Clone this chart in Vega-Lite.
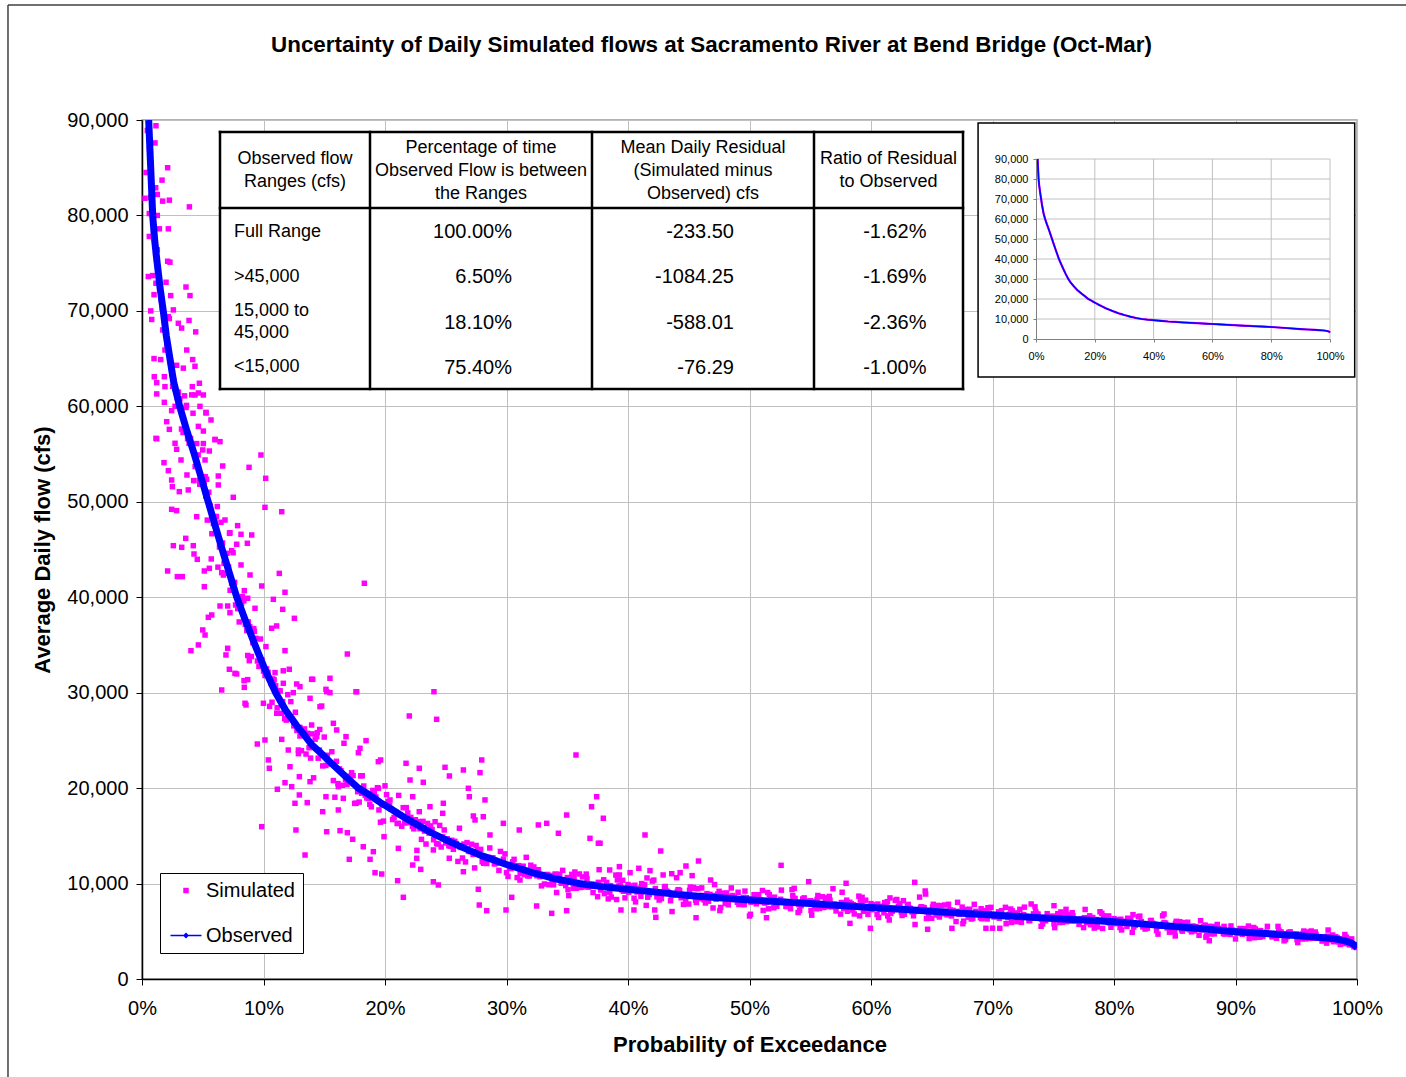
{
"$schema": "https://vega.github.io/schema/vega-lite/v6.json",
"width": 1215, "height": 859,
"autosize": {"type": "none"},
"padding": {"left": 142, "top": 120, "right": 49, "bottom": 98},
"background": "white",
"title": {"text": "Uncertainty of Daily Simulated flows at Sacramento River at Bend Bridge (Oct-Mar)", "fontSize": 22.4, "fontWeight": "bold", "font": "Liberation Sans", "color": "black", "anchor": "middle", "dx": -38, "frame": "group", "offset": -69.75, "baseline": "alphabetic"},
"config": {
  "font": "Liberation Sans",
  "view": {"stroke": "#999999", "strokeWidth": 1.5},
  "axis": {"labelFont": "Liberation Sans", "titleFont": "Liberation Sans", "labelColor": "black", "titleColor": "black"},
  "legend": {"labelFont": "Liberation Sans", "orient": "none", "legendX": 18, "legendY": 753, "padding": 7.5, "strokeColor": "black", "fillColor": "white", "cornerRadius": 0, "labelFontSize": 20, "labelColor": "black", "rowPadding": 24, "labelOffset": 9, "symbolOffset": 7.5}
},
"datasets": {
"sim": [
{"p":1.15,"s":89400},{"p":0.44,"s":88900},{"p":1.07,"s":87600},{"p":2.11,"s":85000},{"p":0.33,"s":84500},{"p":1.65,"s":83700},{"p":0.25,"s":81800},{"p":1.7,"s":81500},{"p":2.25,"s":81600},{"p":3.9,"s":80900},{"p":0.7,"s":81900},{"p":1.13,"s":82900},{"p":1.26,"s":82200},{"p":0.6,"s":80200},{"p":1.26,"s":80000},{"p":1.43,"s":78600},{"p":2.17,"s":78600},{"p":0.6,"s":77800},{"p":1.26,"s":76400},{"p":2.11,"s":75200},{"p":2.3,"s":75100},{"p":0.52,"s":73600},{"p":0.88,"s":73700},{"p":1.15,"s":72900},{"p":1.98,"s":73000},{"p":3.62,"s":72500},{"p":3.95,"s":71600},{"p":2.36,"s":71600},{"p":0.99,"s":71700},{"p":0.72,"s":70000},{"p":0.8,"s":69100},{"p":2.58,"s":70100},{"p":2.25,"s":69200},{"p":2.16,"s":69400},{"p":3.87,"s":69000},{"p":3.26,"s":68200},{"p":2.99,"s":68700},{"p":1.7,"s":68000},{"p":4.42,"s":67800},{"p":1.89,"s":65900},{"p":3.68,"s":65900},{"p":4.17,"s":64900},{"p":1.54,"s":64900},{"p":0.99,"s":65000},{"p":2.85,"s":64300},{"p":4.36,"s":64200},{"p":3.4,"s":64000},{"p":1.01,"s":63100},{"p":1.84,"s":63100},{"p":2.52,"s":62100},{"p":4.09,"s":61200},{"p":4.64,"s":61400},{"p":1.21,"s":61300},{"p":4.77,"s":60000},{"p":5.27,"s":59300},{"p":2.72,"s":60000},{"p":3.66,"s":60100},{"p":1.21,"s":56600},{"p":4.64,"s":57900},{"p":6.01,"s":56500},{"p":5.05,"s":56100},
{"p":0.55,"s":89000},{"p":0.62,"s":87000},{"p":0.68,"s":85800},{"p":0.75,"s":84200},{"p":0.82,"s":82000},{"p":0.9,"s":80500},{"p":0.97,"s":78800},{"p":1.05,"s":77200},{"p":1.12,"s":76000},{"p":1.2,"s":75400},{"p":1.32,"s":74000},{"p":1.45,"s":72300},{"p":1.58,"s":71200},{"p":1.66,"s":70300},{"p":1.82,"s":69000},{"p":1.95,"s":67800},{"p":2.05,"s":66500},{"p":2.2,"s":65600},{"p":2.35,"s":64600},{"p":2.45,"s":63400},{"p":2.62,"s":62700},{"p":2.75,"s":61800},{"p":2.9,"s":60900},
{"p":1.21,"s":62480},{"p":1.89,"s":62060},{"p":4.14,"s":62060},{"p":4.72,"s":62420},{"p":5.05,"s":61190},{"p":4.36,"s":61190},{"p":1.84,"s":60420},{"p":2.44,"s":59550},{"p":5.27,"s":59370},{"p":2.03,"s":58390},{"p":5.68,"s":58570},{"p":2.25,"s":57590},{"p":5.05,"s":57410},{"p":1.15,"s":56650},{"p":2.72,"s":56130},{"p":6.01,"s":56540},{"p":6.42,"s":56300},{"p":2.85,"s":55500},{"p":5.54,"s":55320},{"p":1.81,"s":54100},{"p":3.21,"s":54380},{"p":5.19,"s":54380},{"p":9.79,"s":54900},{"p":6.64,"s":53750},{"p":2.17,"s":53260},{"p":8.81,"s":53610},{"p":10.18,"s":52460},{"p":2.44,"s":52280},{"p":6.28,"s":52700},{"p":5.32,"s":52360},{"p":3.81,"s":51240},{"p":6.28,"s":51760},{"p":3.07,"s":51060},{"p":7.51,"s":50470},{"p":2.5,"s":51580},{"p":2.44,"s":49210},{"p":2.85,"s":49070},{"p":10.12,"s":49420},{"p":11.5,"s":48960},{"p":4.5,"s":48440},{"p":6.83,"s":48090},{"p":7.87,"s":47500},{"p":8.15,"s":46590},{"p":9.03,"s":46520},{"p":7.24,"s":46760},{"p":3.6,"s":46170},{"p":2.58,"s":45400},{"p":3.27,"s":45230},{"p":4.22,"s":45400},{"p":8.67,"s":45650},{"p":7.79,"s":45550},{"p":4.28,"s":44530},{"p":4.55,"s":43970},{"p":7.38,"s":44880},{"p":8.15,"s":43380},{"p":2.11,"s":42750},{"p":2.91,"s":42160},{"p":3.32,"s":42160},{"p":5.13,"s":42750},{"p":5.54,"s":43030},{"p":8.89,"s":42330},{"p":6.56,"s":42570},{"p":11.3,"s":42500},{"p":9.85,"s":41180},{"p":5.13,"s":41100},{"p":11.77,"s":40520},{"p":8.42,"s":40690},{"p":8.7,"s":39890},{"p":10.81,"s":39780},{"p":6.42,"s":39080},{"p":7.05,"s":39080},{"p":9.3,"s":38840},{"p":11.58,"s":38730},{"p":5.46,"s":37900},{"p":5.74,"s":38140},{"p":12.54,"s":37790},{"p":7.24,"s":38380},{"p":5.0,"s":36570},{"p":5.19,"s":36040},{"p":10.67,"s":36750},{"p":11.08,"s":36990},{"p":4.64,"s":35000},{"p":4.03,"s":34400},{"p":7.05,"s":34650},{"p":6.91,"s":33950},{"p":11.77,"s":34400},{"p":16.9,"s":34050},{"p":18.3,"s":41460},{"p":8.83,"s":33350},{"p":8.7,"s":33900},{"p":7.19,"s":32450},{"p":7.79,"s":31960},{"p":10.95,"s":32100},{"p":12.12,"s":32450},{"p":15.47,"s":31510},{"p":6.56,"s":30280},{"p":8.42,"s":30560},{"p":14.05,"s":31400},{"p":17.67,"s":30100},{"p":12.73,"s":30910},{"p":15.2,"s":30100},{"p":8.56,"s":28710},{"p":14.79,"s":28600},
{"p":7.65,"s":32030},{"p":8.4,"s":31260},{"p":8.48,"s":28890},{"p":9.49,"s":24620},{"p":9.85,"s":15960},{"p":12.67,"s":15610},{"p":13.42,"s":12990},{"p":24.03,"s":30100},{"p":22.0,"s":27560},{"p":24.25,"s":27210},{"p":17.61,"s":30100},{"p":13.96,"s":31400},{"p":15.14,"s":30350},{"p":15.47,"s":30000},{"p":13.83,"s":29410},{"p":14.65,"s":28530},{"p":15.75,"s":26790},{"p":16.02,"s":26090},{"p":16.79,"s":25390},{"p":18.44,"s":24970},{"p":17.94,"s":24170},{"p":17.81,"s":23710},{"p":19.45,"s":22770},{"p":19.64,"s":22950},{"p":21.73,"s":22600},{"p":22.82,"s":22080},{"p":27.96,"s":22950},{"p":24.94,"s":22180},{"p":26.45,"s":21900},{"p":25.3,"s":21270},{"p":27.82,"s":21620},{"p":35.72,"s":23470},{"p":22.06,"s":20850},{"p":23.15,"s":20610},{"p":10.12,"s":25040},{"p":10.4,"s":22950},{"p":10.48,"s":22080},{"p":11.14,"s":19880},{"p":11.77,"s":20570},{"p":12.32,"s":20150},{"p":12.59,"s":18410},{"p":12.95,"s":19280},{"p":13.6,"s":18480},{"p":14.87,"s":17530},{"p":16.16,"s":17710},{"p":15.2,"s":15430},{"p":16.3,"s":15540},{"p":16.9,"s":15330},{"p":17.34,"s":14640},{"p":18.21,"s":13860},{"p":18.77,"s":12540},{"p":19.18,"s":11140},{"p":19.73,"s":11000},{"p":17.06,"s":12540},{"p":21.04,"s":10300},{"p":21.51,"s":8560},{"p":19.04,"s":13340},{"p":21.1,"s":13690},{"p":22.28,"s":11940},{"p":22.94,"s":11490},{"p":23.98,"s":10190},{"p":24.39,"s":9850},{"p":21.1,"s":16310},{"p":19.92,"s":14910},{"p":22.61,"s":12650},{"p":23.98,"s":13520},{"p":25.29,"s":12650},{"p":26.17,"s":13860},{"p":26.45,"s":11240},{"p":27.68,"s":9400},{"p":28.37,"s":7160},{"p":27.76,"s":7750},{"p":29.96,"s":7230},{"p":30.43,"s":8560},{"p":31.11,"s":10370},{"p":32.48,"s":7650},{"p":33.72,"s":6880},{"p":34.95,"s":7160},{"p":37.42,"s":19100},{"p":37.0,"s":18050},{"p":37.97,"s":16840},{"p":34.95,"s":17180},{"p":36.87,"s":14740},{"p":37.56,"s":14220},{"p":41.4,"s":15090},{"p":34.27,"s":15270},{"p":33.31,"s":16310},{"p":32.62,"s":16140},{"p":31.05,"s":15610},{"p":29.74,"s":16310},{"p":28.64,"s":15090},{"p":28.09,"s":17000},{"p":27.27,"s":17080},{"p":26.86,"s":19980},{"p":26.94,"s":19100},{"p":28.23,"s":18760},{"p":27.41,"s":16660},{"p":24.8,"s":18410},{"p":24.75,"s":17360},{"p":22.28,"s":19100},{"p":22.82,"s":17530},{"p":23.7,"s":18050},{"p":20.41,"s":18760},{"p":19.45,"s":19980},{"p":18.08,"s":19460},{"p":16.57,"s":18930},{"p":15.14,"s":19100},{"p":13.83,"s":20670},{"p":12.95,"s":21200},{"p":17.12,"s":21200},{"p":16.16,"s":20150},{"p":12.04,"s":23990},{"p":12.18,"s":22240},{"p":11.5,"s":25110},{"p":13.0,"s":25460},{"p":13.96,"s":26610},{"p":14.43,"s":25810},{"p":12.87,"s":23990},{"p":14.6,"s":23990},{"p":11.09,"s":27840},{"p":11.58,"s":29060},{"p":12.45,"s":30000},{"p":13.0,"s":30630},{"p":11.63,"s":30980},{"p":10.81,"s":31150},{"p":9.99,"s":28890},
{"p":42.69,"s":13410},{"p":37.7,"s":14220},{"p":45.8,"s":12360},{"p":44.77,"s":11840},{"p":52.6,"s":11910},{"p":63.6,"s":10130},{"p":64.46,"s":9220},{"p":64.5,"s":8900},{"p":57.95,"s":10030},{"p":54.87,"s":10200},{"p":53.68,"s":9500},{"p":56.87,"s":9460},{"p":46.8,"s":10370},{"p":45.28,"s":10830},{"p":44.29,"s":11140},{"p":43.6,"s":11030},{"p":42.89,"s":10900},{"p":41.81,"s":11350},{"p":40.89,"s":11600},{"p":40.17,"s":11140},{"p":39.29,"s":11770},{"p":39.29,"s":10900},{"p":38.49,"s":11420},{"p":39.42,"s":7230},{"p":40.49,"s":7230},{"p":42.29,"s":6460},{"p":42.2,"s":7230},{"p":45.6,"s":6420},{"p":51.4,"s":6420},{"p":50.08,"s":6780},{"p":58.27,"s":5830},{"p":59.95,"s":5310},{"p":64.66,"s":5210},{"p":66.66,"s":5310},{"p":69.46,"s":5310},{"p":70.6,"s":5310},{"p":85.04,"s":4510},{"p":87.84,"s":4010},{"p":73.18,"s":7860},{"p":75.06,"s":7680},{"p":76.05,"s":7300},{"p":78.85,"s":7050},{"p":84.12,"s":6810},{"p":96.23,"s":5030},{"p":69.87,"s":7510},{"p":72.25,"s":7300},{"p":61.35,"s":8100},{"p":62.67,"s":8200},{"p":59.27,"s":8560},
{"p":35,"s":10630},{"p":35.5,"s":9505},{"p":36,"s":11000},{"p":36.5,"s":9662},{"p":37,"s":9949},{"p":37.5,"s":8624},{"p":38,"s":10394},{"p":38.5,"s":9094},{"p":39,"s":10889},{"p":39.5,"s":9336},{"p":40,"s":9896},{"p":40.5,"s":8467},{"p":41,"s":9518},{"p":41.5,"s":7717},{"p":42,"s":10256},{"p":42.5,"s":8703},{"p":43,"s":9630},{"p":43.5,"s":8201},{"p":44,"s":10616},{"p":44.5,"s":8815},{"p":45,"s":7854},{"p":45.5,"s":9489},{"p":46,"s":8431},{"p":46.5,"s":8946},{"p":47,"s":7440},{"p":47.5,"s":9187},{"p":48,"s":7910},{"p":48.5,"s":9540},{"p":49,"s":8039},{"p":49.5,"s":8549},{"p":50,"s":6600},{"p":50.5,"s":8688},{"p":51,"s":8088},{"p":51.5,"s":9061},{"p":52,"s":7458},{"p":52.5,"s":8202},{"p":53,"s":7602},{"p":53.5,"s":9359},{"p":54,"s":6967},{"p":54.5,"s":8500},{"p":55,"s":8200},{"p":55.5,"s":7360},{"p":56,"s":8620},{"p":56.5,"s":7580},{"p":57,"s":7840},{"p":57.5,"s":6800},{"p":58,"s":8260},{"p":58.5,"s":7220},{"p":59,"s":8680},{"p":59.5,"s":7440},{"p":60,"s":7900},{"p":60.5,"s":6760},{"p":61,"s":7620},{"p":61.5,"s":6180},{"p":62,"s":8240},{"p":62.5,"s":7000},{"p":63,"s":7760},{"p":63.5,"s":6620},{"p":64,"s":8580},{"p":64.5,"s":7140},{"p":65,"s":6364},{"p":65.5,"s":7704},{"p":66,"s":6836},{"p":66.5,"s":7256},{"p":67,"s":6020},{"p":67.5,"s":7532},{"p":68,"s":6480},{"p":68.5,"s":7820},{"p":69,"s":6424},{"p":69.5,"s":6924},{"p":70,"s":5320},{"p":70.5,"s":7033},{"p":71,"s":6538},{"p":71.5,"s":7331},{"p":72,"s":6008},{"p":72.5,"s":6617},{"p":73,"s":6122},{"p":73.5,"s":7559},{"p":74,"s":5522},{"p":74.5,"s":6845},{"p":75,"s":6590},{"p":75.5,"s":5915},{"p":76,"s":6920},{"p":76.5,"s":6085},{"p":77,"s":6220},{"p":77.5,"s":5385},{"p":78,"s":6620},{"p":78.5,"s":5715},{"p":79,"s":6880},{"p":79.5,"s":5955},{"p":80,"s":6320},{"p":80.5,"s":5390},{"p":81,"s":6060},{"p":81.5,"s":4890},{"p":82,"s":6520},{"p":82.5,"s":5510},{"p":83,"s":6100},{"p":83.5,"s":5070},{"p":84,"s":6620},{"p":84.5,"s":5550},{"p":85,"s":4940},{"p":85.5,"s":5936},{"p":86,"s":5252},{"p":86.5,"s":5548},{"p":87,"s":4584},{"p":87.5,"s":5650},{"p":88,"s":4718},{"p":88.5,"s":5714},{"p":89,"s":4750},{"p":89.5,"s":5046},{"p":90,"s":4200},{"p":90.5,"s":5199},{"p":91,"s":4808},{"p":91.5,"s":5397},{"p":92,"s":4376},{"p":92.5,"s":4825},{"p":93,"s":4434},{"p":93.5,"s":5513},{"p":94,"s":4002},{"p":94.5,"s":4941},{"p":95,"s":4730},{"p":95.5,"s":4200},{"p":96,"s":4930},{"p":96.5,"s":4280},{"p":97,"s":4410},{"p":97.5,"s":3760},{"p":98,"s":4610},{"p":98.5,"s":3885},{"p":99,"s":4660},{"p":99.5,"s":3740},
{"p":35.25,"s":10500},{"p":35.75,"s":9502},{"p":36.25,"s":10699},{"p":36.75,"s":9620},{"p":37.25,"s":9845},{"p":37.75,"s":9323},{"p":38.25,"s":10116},{"p":38.75,"s":9496},{"p":39.25,"s":9741},{"p":39.75,"s":8500},{"p":40.25,"s":9492},{"p":40.75,"s":9117},{"p":41.25,"s":9858},{"p":41.75,"s":8863},{"p":42.25,"s":9480},{"p":42.75,"s":8423},{"p":43.25,"s":9164},{"p":43.75,"s":8789},{"p":44.25,"s":9282},{"p":44.75,"s":8287},{"p":45.25,"s":8728},{"p":45.75,"s":9464},{"p":46.25,"s":8297},{"p":46.75,"s":8865},{"p":47.25,"s":8370},{"p":47.75,"s":8997},{"p":48.25,"s":7773},{"p":48.75,"s":8510},{"p":49.25,"s":7958},{"p":49.75,"s":8527},{"p":50.25,"s":8204},{"p":50.75,"s":8836},{"p":51.25,"s":7959},{"p":51.75,"s":8484},{"p":52.25,"s":7606},{"p":52.75,"s":8126},{"p":53.25,"s":7921},{"p":53.75,"s":8443},{"p":54.25,"s":7678},{"p":54.75,"s":8088},{"p":55.25,"s":8130},{"p":55.75,"s":7390},{"p":56.25,"s":8400},{"p":56.75,"s":7560},{"p":57.25,"s":7770},{"p":57.75,"s":7380},{"p":58.25,"s":8040},{"p":58.75,"s":7550},{"p":59.25,"s":7760},{"p":59.75,"s":6770},{"p":60.25,"s":7580},{"p":60.75,"s":7290},{"p":61.25,"s":7900},{"p":61.75,"s":7110},{"p":62.25,"s":7620},{"p":62.75,"s":6780},{"p":63.25,"s":7390},{"p":63.75,"s":7100},{"p":64.25,"s":7510},{"p":64.75,"s":6720},{"p":65.25,"s":7080},{"p":65.75,"s":7684},{"p":66.25,"s":6724},{"p":66.75,"s":7190},{"p":67.25,"s":6782},{"p":67.75,"s":7294},{"p":68.25,"s":6288},{"p":68.75,"s":6892},{"p":69.25,"s":6438},{"p":69.75,"s":6904},{"p":70.25,"s":6637},{"p":70.75,"s":7154},{"p":71.25,"s":6429},{"p":71.75,"s":6854},{"p":72.25,"s":6129},{"p":72.75,"s":6554},{"p":73.25,"s":6381},{"p":73.75,"s":6806},{"p":74.25,"s":6173},{"p":74.75,"s":6506},{"p":75.25,"s":6533},{"p":75.75,"s":5938},{"p":76.25,"s":6743},{"p":76.75,"s":6068},{"p":77.25,"s":6233},{"p":77.75,"s":5918},{"p":78.25,"s":6443},{"p":78.75,"s":6048},{"p":79.25,"s":6213},{"p":79.75,"s":5418},{"p":80.25,"s":6055},{"p":80.75,"s":5805},{"p":81.25,"s":6275},{"p":81.75,"s":5625},{"p":82.25,"s":6015},{"p":82.75,"s":5325},{"p":83.25,"s":5795},{"p":83.75,"s":5545},{"p":84.25,"s":5855},{"p":84.75,"s":5205},{"p":85.25,"s":5473},{"p":85.75,"s":5909},{"p":86.25,"s":5155},{"p":86.75,"s":5487},{"p":87.25,"s":5151},{"p":87.75,"s":5519},{"p":88.25,"s":4729},{"p":88.75,"s":5165},{"p":89.25,"s":4795},{"p":89.75,"s":5127},{"p":90.25,"s":4904},{"p":90.75,"s":5285},{"p":91.25,"s":4718},{"p":91.75,"s":5027},{"p":92.25,"s":4460},{"p":92.75,"s":4771},{"p":93.25,"s":4624},{"p":93.75,"s":4933},{"p":94.25,"s":4436},{"p":94.75,"s":4677},{"p":95.25,"s":4675},{"p":95.75,"s":4205},{"p":96.25,"s":4785},{"p":96.75,"s":4255},{"p":97.25,"s":4355},{"p":97.75,"s":4095},{"p":98.25,"s":4430},{"p":98.75,"s":4030},{"p":99.25,"s":4020},{"p":99.75,"s":3375},{"p":100,"s":3300},
{"p":11,"s":30720},{"p":11.5,"s":27840},{"p":12,"s":29790},{"p":12.5,"s":26520},{"p":13,"s":26360},{"p":13.5,"s":23570},{"p":14,"s":25680},{"p":14.5,"s":23135},{"p":15,"s":25350},{"p":15.5,"s":22520},{"p":16,"s":22810},{"p":16.5,"s":20300},{"p":17,"s":21230},{"p":17.5,"s":18400},{"p":18,"s":21280},{"p":18.5,"s":18980},{"p":19,"s":19760},{"p":19.5,"s":17710},{"p":20,"s":20240},{"p":20.5,"s":17800},{"p":21,"s":16290},{"p":21.5,"s":17950},{"p":22,"s":16380},{"p":22.5,"s":16690},{"p":23,"s":14630},{"p":23.5,"s":16300},{"p":24,"s":14590},{"p":24.5,"s":16090},{"p":25,"s":14250},{"p":25.5,"s":14530},{"p":26,"s":12320},{"p":26.5,"s":14140},{"p":27,"s":13340},{"p":27.5,"s":13990},{"p":28,"s":12280},{"p":28.5,"s":12750},{"p":29,"s":12050},{"p":29.5,"s":13370},{"p":30,"s":11140},{"p":30.5,"s":12270},{"p":31,"s":11880},{"p":31.5,"s":10940},{"p":32,"s":11920},{"p":32.5,"s":10820},{"p":33,"s":10940},{"p":33.5,"s":9880},{"p":34,"s":11000},{"p":34.5,"s":10040},
{"p":11.25,"s":30210},{"p":11.75,"s":27270},{"p":12.25,"s":29060},{"p":12.75,"s":26040},{"p":13.25,"s":25900},{"p":13.75,"s":24230},{"p":14.25,"s":25130},{"p":14.75,"s":23490},{"p":15.25,"s":23440},{"p":15.75,"s":20790},{"p":16.25,"s":22010},{"p":16.75,"s":20900},{"p":17.25,"s":21615},{"p":17.75,"s":19620},{"p":18.25,"s":20220},{"p":18.75,"s":18300},{"p":19.25,"s":19070},{"p":19.75,"s":18220},{"p":20.25,"s":18605},{"p":20.75,"s":16925},{"p":21.25,"s":17200},{"p":21.75,"s":17955},{"p":22.25,"s":16000},{"p":22.75,"s":16490},{"p":23.25,"s":15500},{"p":23.75,"s":16040},{"p":24.25,"s":14180},{"p":24.75,"s":14890},{"p":25.25,"s":13965},{"p":25.75,"s":14420},{"p":26.25,"s":13785},{"p":26.75,"s":14290},{"p":27.25,"s":13045},{"p":27.75,"s":13400},{"p":28.25,"s":12225},{"p":28.75,"s":12610},{"p":29.25,"s":12205},{"p":29.75,"s":12565},{"p":30.25,"s":11615},{"p":30.75,"s":11870},{"p":31.25,"s":11775},{"p":31.75,"s":10810},{"p":32.25,"s":11740},{"p":32.75,"s":10715},{"p":33.25,"s":10800},{"p":33.75,"s":10270},{"p":34.25,"s":10835},{"p":34.75,"s":10260},
{"p":3,"s":61490},{"p":3.25,"s":57620},{"p":3.5,"s":61100},{"p":3.75,"s":56610},{"p":4,"s":56640},{"p":4.25,"s":52220},{"p":4.5,"s":56100},{"p":4.75,"s":51830},{"p":5,"s":55430},{"p":5.25,"s":50600},{"p":5.5,"s":51000},{"p":5.75,"s":46650},{"p":6,"s":48170},{"p":6.25,"s":43150},{"p":6.5,"s":47850},{"p":6.75,"s":43550},{"p":7,"s":44600},{"p":7.25,"s":40730},{"p":7.5,"s":44660},{"p":7.75,"s":40200},{"p":8,"s":37410},{"p":8.25,"s":40070},{"p":8.5,"s":37150},{"p":8.75,"s":37410},{"p":9,"s":33790},{"p":9.25,"s":36420},{"p":9.5,"s":33320},{"p":9.75,"s":35620},{"p":10,"s":32260},{"p":10.25,"s":32490},{"p":10.5,"s":28570},{"p":10.75,"s":31440},
{"p":3.125,"s":60800},{"p":3.375,"s":57260},{"p":3.625,"s":59880},{"p":3.875,"s":56120},{"p":4.125,"s":55920},{"p":4.375,"s":53690},{"p":4.625,"s":54910},{"p":4.875,"s":52390},{"p":5.125,"s":52070},{"p":5.375,"s":48080},{"p":5.625,"s":49550},{"p":5.875,"s":47720},{"p":6.125,"s":48460},{"p":6.375,"s":45260},{"p":6.625,"s":45680},{"p":6.875,"s":42510},{"p":7.125,"s":43160},{"p":7.375,"s":41475},{"p":7.625,"s":41555},{"p":7.875,"s":38800},{"p":8.125,"s":38875},{"p":8.375,"s":39620},{"p":8.625,"s":36505},{"p":8.875,"s":36900},{"p":9.125,"s":35230},{"p":9.375,"s":35690},{"p":9.625,"s":32750},{"p":9.875,"s":33425},{"p":10.125,"s":31790},{"p":10.375,"s":32130},{"p":10.625,"s":30960},{"p":10.875,"s":31350},
{"p":35.125,"s":8732},{"p":35.625,"s":11211},{"p":36.125,"s":9606},{"p":36.625,"s":10510},{"p":37.125,"s":9060},{"p":37.625,"s":11454},{"p":38.125,"s":9635},{"p":38.625,"s":8582},{"p":39.125,"s":10377},{"p":39.625,"s":9197},{"p":40.125,"s":9756},{"p":40.625,"s":8079},{"p":41.125,"s":9998},{"p":41.625,"s":8569},{"p":42.125,"s":10364},{"p":42.625,"s":8687},{"p":43.125,"s":9242},{"p":43.625,"s":7069},{"p":44.125,"s":9360},{"p":44.625,"s":8675},{"p":45.125,"s":9635},{"p":45.625,"s":8021},{"p":46.125,"s":8756},{"p":46.625,"s":8150},{"p":47.125,"s":9893},{"p":47.625,"s":7496},{"p":48.125,"s":9018},{"p":48.625,"s":8745},{"p":49.125,"s":7803},{"p":49.625,"s":9210},{"p":50.125,"s":8046},{"p":50.625,"s":8342},{"p":51.125,"s":7183},{"p":51.625,"s":8828},{"p":52.125,"s":7672},{"p":52.625,"s":9312},{"p":53.125,"s":7929},{"p":53.625,"s":8454},{"p":54.125,"s":7182},{"p":54.625,"s":8155},{"p":55.125,"s":6690},{"p":55.625,"s":8750},{"p":56.125,"s":7510},{"p":56.625,"s":8270},{"p":57.125,"s":7130},{"p":57.625,"s":9090},{"p":58.125,"s":7650},{"p":58.625,"s":6810},{"p":59.125,"s":8270},{"p":59.625,"s":7330},{"p":60.125,"s":7790},{"p":60.625,"s":6450},{"p":61.125,"s":8010},{"p":61.625,"s":6870},{"p":62.125,"s":8330},{"p":62.625,"s":6990},{"p":63.125,"s":7450},{"p":63.625,"s":5710},{"p":64.125,"s":7570},{"p":64.625,"s":7030},{"p":65.125,"s":7826},{"p":65.625,"s":6498},{"p":66.125,"s":7102},{"p":66.625,"s":6602},{"p":67.125,"s":8034},{"p":67.625,"s":6062},{"p":68.125,"s":7310},{"p":68.625,"s":7086},{"p":69.125,"s":6310},{"p":69.625,"s":7466},{"p":70.125,"s":6507},{"p":70.625,"s":6748},{"p":71.125,"s":5793},{"p":71.625,"s":7138},{"p":72.125,"s":6183},{"p":72.625,"s":7528},{"p":73.125,"s":6389},{"p":73.625,"s":6814},{"p":74.125,"s":5767},{"p":74.625,"s":6560},{"p":75.125,"s":5381},{"p":75.625,"s":7026},{"p":76.125,"s":6031},{"p":76.625,"s":6636},{"p":77.125,"s":5721},{"p":77.625,"s":7286},{"p":78.125,"s":6131},{"p":78.625,"s":5456},{"p":79.125,"s":6621},{"p":79.625,"s":5866},{"p":80.125,"s":6228},{"p":80.625,"s":5138},{"p":81.125,"s":6368},{"p":81.625,"s":5438},{"p":82.125,"s":6588},{"p":82.625,"s":5498},{"p":83.125,"s":5848},{"p":83.625,"s":4700},{"p":84.125,"s":5908},{"p":84.625,"s":5458},{"p":85.125,"s":6047},{"p":85.625,"s":5013},{"p":86.125,"s":5449},{"p":86.625,"s":5045},{"p":87.125,"s":6111},{"p":87.625,"s":4587},{"p":88.125,"s":5513},{"p":88.625,"s":5319},{"p":89.125,"s":4705},{"p":89.625,"s":5561},{"p":90.125,"s":4810},{"p":90.625,"s":4979},{"p":91.125,"s":4238},{"p":91.625,"s":5247},{"p":92.125,"s":4506},{"p":92.625,"s":5515},{"p":93.125,"s":4634},{"p":93.625,"s":4943},{"p":94.125,"s":4132},{"p":94.625,"s":4721},{"p":95.125,"s":3818},{"p":95.625,"s":5028},{"p":96.125,"s":4258},{"p":96.625,"s":4688},{"p":97.125,"s":3978},{"p":97.625,"s":5128},{"p":98.125,"s":4220},{"p":98.625,"s":3615},{"p":99.125,"s":4370},{"p":99.625,"s":3580},
{"p":35.375,"s":10962},{"p":36.375,"s":9690},{"p":37.375,"s":9922},{"p":38.375,"s":8396},{"p":39.375,"s":9798},{"p":40.375,"s":9270},{"p":41.375,"s":9866},{"p":42.375,"s":8607},{"p":43.375,"s":9042},{"p":44.375,"s":8509},{"p":45.375,"s":9590},{"p":46.375,"s":7966},{"p":47.375,"s":8890},{"p":48.375,"s":8650},{"p":49.375,"s":7973},{"p":50.375,"s":8832},{"p":51.375,"s":8028},{"p":52.375,"s":8173},{"p":53.375,"s":7369},{"p":54.375,"s":8386},{"p":55.375,"s":7610},{"p":56.375,"s":8505},{"p":57.375,"s":7645},{"p":58.375,"s":7890},{"p":59.375,"s":7095},{"p":60.375,"s":7600},{"p":61.375,"s":6610},{"p":62.375,"s":7895},{"p":63.375,"s":7035},{"p":64.375,"s":7475},{"p":65.375,"s":6711},{"p":66.375,"s":7827},{"p":67.375,"s":6910},{"p":68.375,"s":6352},{"p":69.375,"s":7169},{"p":70.375,"s":6554},{"p":71.375,"s":6783},{"p":72.375,"s":5936},{"p":73.375,"s":6823},{"p":74.375,"s":6095},{"p":75.375,"s":6844},{"p":76.375,"s":6098},{"p":77.375,"s":6288},{"p":78.375,"s":5334},{"p":79.375,"s":6252},{"p":80.375,"s":5911},{"p":81.375,"s":6279},{"p":82.375,"s":5451},{"p":83.375,"s":5715},{"p":84.375,"s":5355},{"p":85.375,"s":6006},{"p":86.375,"s":4942},{"p":87.375,"s":5472},{"p":88.375,"s":5273},{"p":89.375,"s":4800},{"p":90.375,"s":5293},{"p":91.375,"s":4756},{"p":92.375,"s":4811},{"p":93.375,"s":4273},{"p":94.375,"s":4874},{"p":95.375,"s":4357},{"p":96.375,"s":4842},{"p":97.375,"s":4274},{"p":98.375,"s":4312},{"p":99.375,"s":3577},
{"p":35.0625,"s":9342},{"p":35.5625,"s":10705},{"p":36.0625,"s":9593},{"p":36.5625,"s":10991},{"p":37.0625,"s":9716},{"p":37.5625,"s":10127},{"p":38.0625,"s":8948},{"p":38.5625,"s":9780},{"p":39.0625,"s":8327},{"p":39.5625,"s":10345},{"p":40.0625,"s":9094},{"p":40.5625,"s":9823},{"p":41.0625,"s":8667},{"p":41.5625,"s":10586},{"p":42.0625,"s":9132},{"p":42.5625,"s":8273},{"p":43.0625,"s":9696},{"p":43.5625,"s":8739},{"p":44.0625,"s":9170},{"p":44.5625,"s":7815},{"p":45.0625,"s":9283},{"p":45.5625,"s":8251},{"p":46.0625,"s":9546},{"p":46.5625,"s":8335},{"p":47.0625,"s":8734},{"p":47.5625,"s":7166},{"p":48.0625,"s":8822},{"p":48.5625,"s":8324},{"p":49.0625,"s":9086},{"p":49.5625,"s":7781},{"p":50.0625,"s":8365},{"p":50.5625,"s":7877},{"p":51.0625,"s":9271},{"p":51.5625,"s":7355},{"p":52.0625,"s":8573},{"p":52.5625,"s":8354},{"p":53.0625,"s":7598},{"p":53.5625,"s":8727},{"p":54.0625,"s":7791},{"p":54.5625,"s":8025},{"p":55.0625,"s":7175},{"p":55.5625,"s":8335},{"p":56.0625,"s":7495},{"p":56.5625,"s":8655},{"p":57.0625,"s":7655},{"p":57.5625,"s":8015},{"p":58.0625,"s":7095},{"p":58.5625,"s":7775},{"p":59.0625,"s":6615},{"p":59.5625,"s":8255},{"p":60.0625,"s":7255},{"p":60.5625,"s":7855},{"p":61.0625,"s":6935},{"p":61.5625,"s":8495},{"p":62.0625,"s":7335},{"p":62.5625,"s":6655},{"p":63.0625,"s":7815},{"p":63.5625,"s":7055},{"p":64.0625,"s":7415},{"p":64.5625,"s":6335},{"p":65.0625,"s":7537},{"p":65.5625,"s":6687},{"p":66.0625,"s":7751},{"p":66.5625,"s":6754},{"p":67.0625,"s":7082},{"p":67.5625,"s":5791},{"p":68.0625,"s":7149},{"p":68.5625,"s":6741},{"p":69.0625,"s":7364},{"p":69.5625,"s":6293},{"p":70.0625,"s":6770},{"p":70.5625,"s":6367},{"p":71.0625,"s":7509},{"p":71.5625,"s":5929},{"p":72.0625,"s":6924},{"p":72.5625,"s":6742},{"p":73.0625,"s":6118},{"p":73.5625,"s":7040},{"p":74.0625,"s":6269},{"p":74.5625,"s":6455},{"p":75.0625,"s":5770},{"p":75.5625,"s":6695},{"p":76.0625,"s":6020},{"p":76.5625,"s":6945},{"p":77.0625,"s":6142},{"p":77.5625,"s":6427},{"p":78.0625,"s":5688},{"p":78.5625,"s":6229},{"p":79.0625,"s":5298},{"p":79.5625,"s":6607},{"p":80.0625,"s":5802},{"p":80.5625,"s":6264},{"p":81.0625,"s":5510},{"p":81.5625,"s":6740},{"p":82.0625,"s":5794},{"p":82.5625,"s":5232},{"p":83.0625,"s":6142},{"p":83.5625,"s":5516},{"p":84.0625,"s":5786},{"p":84.5625,"s":4904},{"p":85.0625,"s":5830},{"p":85.5625,"s":5160},{"p":86.0625,"s":5946},{"p":86.5625,"s":5164},{"p":87.0625,"s":5390},{"p":87.5625,"s":4384},{"p":88.0625,"s":5394},{"p":88.5625,"s":5060},{"p":89.0625,"s":5510},{"p":89.5625,"s":4672},{"p":90.0625,"s":5011},{"p":90.5625,"s":4690},{"p":91.0625,"s":5545},{"p":91.5625,"s":4328},{"p":92.0625,"s":5071},{"p":92.5625,"s":4918},{"p":93.0625,"s":4429},{"p":93.5625,"s":5116},{"p":94.0625,"s":4515},{"p":94.5625,"s":4642},{"p":95.0625,"s":4112},{"p":95.5625,"s":4782},{"p":96.0625,"s":4252},{"p":96.5625,"s":4922},{"p":97.0625,"s":4296},{"p":97.5625,"s":4486},{"p":98.0625,"s":3904},{"p":98.5625,"s":4206},{"p":99.0625,"s":3700},{"p":99.5625,"s":4202},
{"p":11.125,"s":28417},{"p":11.625,"s":32292},{"p":12.125,"s":27429},{"p":12.625,"s":27948},{"p":13.125,"s":23924},{"p":13.625,"s":25739},{"p":14.125,"s":21078},{"p":14.625,"s":26144},{"p":15.125,"s":22372},{"p":15.625,"s":23813},{"p":16.125,"s":20475},{"p":16.625,"s":24697},{"p":17.125,"s":20760},{"p":17.625,"s":18413},{"p":18.125,"s":21298},{"p":18.625,"s":18907},{"p":19.125,"s":19535},{"p":19.625,"s":16428},{"p":20.125,"s":19316},{"p":20.625,"s":16709},{"p":21.125,"s":19238},{"p":21.625,"s":16342},{"p":22.125,"s":16931},{"p":22.625,"s":13479},{"p":23.125,"s":16518},{"p":23.625,"s":15287},{"p":24.125,"s":16480},{"p":24.625,"s":13829},{"p":25.125,"s":14688},{"p":25.625,"s":13588},{"p":26.125,"s":15797},{"p":26.625,"s":12265},{"p":27.125,"s":14124},{"p":27.625,"s":13530},{"p":28.125,"s":12121},{"p":28.625,"s":13729},{"p":29.125,"s":12112},{"p":29.625,"s":12286},{"p":30.125,"s":10746},{"p":30.625,"s":12540},{"p":31.125,"s":11032},{"p":31.625,"s":12748},{"p":32.125,"s":11025},{"p":32.625,"s":11451},{"p":33.125,"s":9953},{"p":33.625,"s":10848},{"p":34.125,"s":9062},{"p":34.625,"s":11382},
{"p":11.375,"s":30186},{"p":11.875,"s":27120},{"p":12.375,"s":27210},{"p":12.875,"s":23610},{"p":13.375,"s":26204},{"p":13.875,"s":23143},{"p":14.375,"s":25397},{"p":14.875,"s":22324},{"p":15.375,"s":22667},{"p":15.875,"s":19046},{"p":16.375,"s":21823},{"p":16.875,"s":20376},{"p":17.375,"s":21310},{"p":17.875,"s":18537},{"p":18.375,"s":19237},{"p":18.875,"s":18040},{"p":19.375,"s":20046},{"p":19.875,"s":16543},{"p":20.375,"s":18186},{"p":20.875,"s":17500},{"p":21.375,"s":16006},{"p":21.875,"s":17410},{"p":22.375,"s":15734},{"p":22.875,"s":15744},{"p":23.375,"s":14139},{"p":23.875,"s":15657},{"p":24.375,"s":14136},{"p":24.875,"s":15614},{"p":25.375,"s":13915},{"p":25.875,"s":14188},{"p":26.375,"s":12673},{"p":26.875,"s":13402},{"p":27.375,"s":11638},{"p":27.875,"s":13582},{"p":28.375,"s":12100},{"p":28.875,"s":12700},{"p":29.375,"s":11377},{"p":29.875,"s":13110},{"p":30.375,"s":11566},{"p":30.875,"s":10625},{"p":31.375,"s":11816},{"p":31.875,"s":10800},{"p":32.375,"s":11050},{"p":32.875,"s":9758},{"p":33.375,"s":10957},{"p":33.875,"s":9866},{"p":34.375,"s":10982},{"p":34.875,"s":9787},
{"p":3.2,"s":59700},{"p":3.7,"s":52808},{"p":4.2,"s":59278},{"p":4.7,"s":52234},{"p":5.2,"s":52633},{"p":5.7,"s":44010},{"p":6.2,"s":49502},{"p":6.7,"s":42322},{"p":7.2,"s":46695},{"p":7.7,"s":39188},{"p":8.2,"s":39372},{"p":8.7,"s":31365},{"p":9.2,"s":36712},{"p":9.7,"s":33412},{"p":10.2,"s":34830},{"p":10.7,"s":28999}
],
"obs": [
{"p":0.55,"o":90000},{"p":0.7,"o":85500},{"p":0.88,"o":80000},{"p":1.05,"o":77300},{"p":1.25,"o":75000},{"p":1.5,"o":72300},{"p":1.75,"o":70000},{"p":2.0,"o":67400},{"p":2.3,"o":65000},{"p":2.6,"o":62600},{"p":3.1,"o":60000},{"p":3.7,"o":57400},{"p":4.3,"o":55000},{"p":4.9,"o":52400},{"p":5.45,"o":50000},{"p":6.0,"o":47600},{"p":6.6,"o":45000},{"p":7.2,"o":42500},{"p":7.8,"o":40000},{"p":8.5,"o":37600},{"p":9.3,"o":35000},{"p":10.1,"o":32500},{"p":11.0,"o":30000},{"p":11.8,"o":28200},{"p":12.7,"o":26600},{"p":13.4,"o":25500},{"p":14.0,"o":24500},{"p":14.7,"o":23700},{"p":15.5,"o":22700},{"p":16.6,"o":21400},{"p":17.8,"o":20000},{"p":18.7,"o":19300},{"p":19.6,"o":18500},{"p":20.5,"o":17800},{"p":21.5,"o":17000},{"p":22.6,"o":16200},{"p":23.7,"o":15400},{"p":24.8,"o":14700},{"p":26,"o":14000},{"p":27,"o":13450},{"p":28,"o":12900},{"p":29,"o":12450},{"p":30,"o":12000},{"p":31,"o":11600},{"p":32,"o":11200},{"p":33,"o":10850},{"p":34,"o":10500},{"p":35,"o":10250},{"p":36,"o":10000},{"p":38,"o":9650},{"p":40,"o":9400},{"p":42.5,"o":9075},{"p":45,"o":8750},{"p":47.5,"o":8515},{"p":50,"o":8280},{"p":52.5,"o":8090},{"p":55,"o":7900},{"p":57.5,"o":7700},{"p":60,"o":7500},{"p":62.5,"o":7300},{"p":65,"o":7100},{"p":67.5,"o":6900},{"p":70,"o":6700},{"p":72.5,"o":6525},{"p":75,"o":6350},{"p":77.5,"o":6175},{"p":80,"o":6000},{"p":82.5,"o":5750},{"p":85,"o":5500},{"p":87.5,"o":5230},{"p":90,"o":4960},{"p":92.5,"o":4755},{"p":95,"o":4550},{"p":97,"o":4350},{"p":98,"o":4250},{"p":99,"o":4000},{"p":99.5,"o":3800},{"p":99.8,"o":3550},{"p":100,"o":3250}
],
"frame": [
{"x1":-11.03,"x2":106,"y1":102050,"y2":102050},
{"x1":-11.03,"x2":-11.03,"y1":102050,"y2":-12000}
],
"tcells": [
{"col":0,"row":0,"kind":"head2","t":"Observed flow\nRanges (cfs)"},
{"col":1,"row":0,"kind":"head3","t":"Percentage of time\nObserved Flow is between\nthe Ranges"},
{"col":2,"row":0,"kind":"head3","t":"Mean Daily Residual\n(Simulated minus\nObserved) cfs"},
{"col":3,"row":0,"kind":"head2","t":"Ratio of Residual\nto Observed"},
{"col":0,"row":1,"kind":"label","t":"Full Range"},
{"col":0,"row":2,"kind":"label","t":">45,000"},
{"col":0,"row":3,"kind":"label2","t":"15,000 to\n45,000"},
{"col":0,"row":4,"kind":"label","t":"<15,000"},
{"col":1,"row":1,"kind":"val","t":"100.00%"},
{"col":1,"row":2,"kind":"val","t":"6.50%"},
{"col":1,"row":3,"kind":"val","t":"18.10%"},
{"col":1,"row":4,"kind":"val","t":"75.40%"},
{"col":2,"row":1,"kind":"val","t":"-233.50"},
{"col":2,"row":2,"kind":"val","t":"-1084.25"},
{"col":2,"row":3,"kind":"val","t":"-588.01"},
{"col":2,"row":4,"kind":"val","t":"-76.29"},
{"col":3,"row":1,"kind":"val4","t":"-1.62%"},
{"col":3,"row":2,"kind":"val4","t":"-1.69%"},
{"col":3,"row":3,"kind":"val4","t":"-2.36%"},
{"col":3,"row":4,"kind":"val4","t":"-1.00%"}
],
"tbox": [{"c1":-0.5,"c2":3.5,"r1":-0.5,"r2":4.5}],
"tlines": [
{"c1":-0.5,"c2":3.5,"r1":-0.5,"r2":-0.5},
{"c1":-0.5,"c2":3.5,"r1":0.5,"r2":0.5},
{"c1":-0.5,"c2":3.5,"r1":4.5,"r2":4.5},
{"c1":-0.5,"c2":-0.5,"r1":-0.5,"r2":4.5},
{"c1":0.5,"c2":0.5,"r1":-0.5,"r2":4.5},
{"c1":1.5,"c2":1.5,"r1":-0.5,"r2":4.5},
{"c1":2.5,"c2":2.5,"r1":-0.5,"r2":4.5},
{"c1":3.5,"c2":3.5,"r1":-0.5,"r2":4.5}
],
"ibox": [{"x1":-19.7,"x2":108.4,"y1":-19000,"y2":108000}],
"igrid": [
{"x1":20,"x2":20,"y1":0,"y2":90000},{"x1":40,"x2":40,"y1":0,"y2":90000},{"x1":60,"x2":60,"y1":0,"y2":90000},{"x1":80,"x2":80,"y1":0,"y2":90000},{"x1":100,"x2":100,"y1":0,"y2":90000},
{"x1":0,"x2":100,"y1":10000,"y2":10000},{"x1":0,"x2":100,"y1":20000,"y2":20000},{"x1":0,"x2":100,"y1":30000,"y2":30000},{"x1":0,"x2":100,"y1":40000,"y2":40000},{"x1":0,"x2":100,"y1":50000,"y2":50000},{"x1":0,"x2":100,"y1":60000,"y2":60000},{"x1":0,"x2":100,"y1":70000,"y2":70000},{"x1":0,"x2":100,"y1":80000,"y2":80000},{"x1":0,"x2":100,"y1":90000,"y2":90000}
]
},
"layer": [
{
 "layer": [
  {"data": {"name": "sim"},
   "mark": {"type": "point", "filled": true, "opacity": 1, "strokeWidth": 0, "clip": true},
   "encoding": {
    "x": {"field": "p", "type": "quantitative", "title": "Probability of Exceedance",
          "scale": {"domain": [0, 100], "nice": false, "zero": false},
          "axis": {"values": [0,10,20,30,40,50,60,70,80,90,100], "labelExpr": "datum.value + '%'", "grid": true, "gridColor": "#c0c0c0", "gridWidth": 1, "domainColor": "black", "domainWidth": 1.5, "tickColor": "black", "tickSize": 6, "tickWidth": 1, "labelFontSize": 20, "labelPadding": 13, "labelFlush": false, "labelOverlap": false, "titleFontSize": 22, "titleFontWeight": "bold", "titlePadding": 16, "orient": "bottom"}},
    "y": {"field": "s", "type": "quantitative", "title": "Average Daily flow (cfs)",
          "scale": {"domain": [0, 90000], "nice": false, "zero": true},
          "axis": {"values": [0,10000,20000,30000,40000,50000,60000,70000,80000,90000], "format": ",.0f", "grid": true, "gridColor": "#c0c0c0", "gridWidth": 1, "domainColor": "black", "domainWidth": 1.5, "tickColor": "black", "tickSize": 6, "tickWidth": 1, "labelFontSize": 20, "labelPadding": 8, "labelFlush": false, "labelOverlap": false, "titleFontSize": 22, "titleFontWeight": "bold", "titlePadding": 12, "orient": "left"}},
    "color": {"datum": "Simulated", "type": "nominal",
              "scale": {"domain": ["Simulated", "Observed"], "range": ["#ff00ff", "#0000ff"]},
              "legend": {"title": null}},
    "shape": {"datum": "Simulated", "type": "nominal",
              "scale": {"domain": ["Simulated", "Observed"], "range": ["square", "M-1.55,-0.075L1.55,-0.075L1.55,0.075L-1.55,0.075Z M0,-0.3L0.3,0L0,0.3L-0.3,0Z"]},
              "legend": {"title": null}},
    "size": {"datum": "Simulated", "type": "ordinal",
              "scale": {"domain": ["Simulated", "Observed"], "range": [30, 400]},
              "legend": {"title": null}}
   }},
  {"data": {"name": "obs"},
   "mark": {"type": "line", "strokeWidth": 7, "clip": true, "color": "#0000ff"},
   "encoding": {
    "x": {"field": "p", "type": "quantitative"},
    "y": {"field": "o", "type": "quantitative"}
   }},
  {"data": {"name": "frame"},
   "mark": {"type": "rule", "color": "#404040", "strokeWidth": 1.5, "clip": false},
   "encoding": {
    "x": {"field": "x1", "type": "quantitative"}, "x2": {"field": "x2"},
    "y": {"field": "y1", "type": "quantitative"}, "y2": {"field": "y2"}
   }}
 ]
},
{
 "layer": [
  {"data": {"name": "tbox"},
   "mark": {"type": "rect", "fill": "white", "strokeWidth": 0},
   "encoding": {
    "x": {"field": "c1", "type": "quantitative", "axis": null, "scale": {"domain": [-0.5, 0.5, 1.5, 2.5, 3.5], "range": [78, 228, 450, 672, 821], "nice": false, "zero": false}},
    "x2": {"field": "c2"},
    "y": {"field": "r1", "type": "quantitative", "axis": null, "scale": {"domain": [-0.5, 0.5, 4.5], "range": [12, 88, 269], "nice": false, "zero": false}},
    "y2": {"field": "r2"}
   }},
  {"data": {"name": "tlines"},
   "mark": {"type": "rule", "color": "black", "strokeWidth": 2.5, "strokeCap": "square"},
   "encoding": {
    "x": {"field": "c1", "type": "quantitative"}, "x2": {"field": "c2"},
    "y": {"field": "r1", "type": "quantitative"}, "y2": {"field": "r2"}
   }},
  {"data": {"name": "tcells"},
   "transform": [{"filter": "datum.kind === 'head2'"}],
   "mark": {"type": "text", "align": "center", "baseline": "middle", "fontSize": 18, "lineHeight": 23, "lineBreak": "\n", "color": "black", "dy": -11, "font": "Liberation Sans"},
   "encoding": {"x": {"field": "col", "type": "quantitative"}, "y": {"field": "row", "type": "quantitative"}, "text": {"field": "t", "type": "nominal"}}},
  {"data": {"name": "tcells"},
   "transform": [{"filter": "datum.kind === 'head3'"}],
   "mark": {"type": "text", "align": "center", "baseline": "middle", "fontSize": 18, "lineHeight": 23, "lineBreak": "\n", "color": "black", "dy": -22, "font": "Liberation Sans"},
   "encoding": {"x": {"field": "col", "type": "quantitative"}, "y": {"field": "row", "type": "quantitative"}, "text": {"field": "t", "type": "nominal"}}},
  {"data": {"name": "tcells"},
   "transform": [{"filter": "datum.kind === 'label'"}],
   "mark": {"type": "text", "align": "left", "baseline": "middle", "fontSize": 18, "color": "black", "dx": -61, "dy": 1, "font": "Liberation Sans"},
   "encoding": {"x": {"field": "col", "type": "quantitative"}, "y": {"field": "row", "type": "quantitative"}, "text": {"field": "t", "type": "nominal"}}},
  {"data": {"name": "tcells"},
   "transform": [{"filter": "datum.kind === 'label2'"}],
   "mark": {"type": "text", "align": "left", "baseline": "middle", "fontSize": 18, "lineHeight": 22, "lineBreak": "\n", "color": "black", "dx": -61, "dy": -10, "font": "Liberation Sans"},
   "encoding": {"x": {"field": "col", "type": "quantitative"}, "y": {"field": "row", "type": "quantitative"}, "text": {"field": "t", "type": "nominal"}}},
  {"data": {"name": "tcells"},
   "transform": [{"filter": "datum.kind === 'val'"}],
   "mark": {"type": "text", "align": "right", "baseline": "middle", "fontSize": 20, "color": "black", "dx": 31, "dy": 1.5, "font": "Liberation Sans"},
   "encoding": {"x": {"field": "col", "type": "quantitative"}, "y": {"field": "row", "type": "quantitative"}, "text": {"field": "t", "type": "nominal"}}},
  {"data": {"name": "tcells"},
   "transform": [{"filter": "datum.kind === 'val4'"}],
   "mark": {"type": "text", "align": "right", "baseline": "middle", "fontSize": 20, "color": "black", "dx": 38, "dy": 1.5, "font": "Liberation Sans"},
   "encoding": {"x": {"field": "col", "type": "quantitative"}, "y": {"field": "row", "type": "quantitative"}, "text": {"field": "t", "type": "nominal"}}}
 ]
},
{
 "layer": [
  {"data": {"name": "ibox"},
   "mark": {"type": "rect", "fill": "white", "stroke": "black", "strokeWidth": 1.5, "clip": false},
   "encoding": {
    "x": {"field": "x1", "type": "quantitative", "scale": {"domain": [0, 100], "range": [894, 1188], "nice": false, "zero": false},
          "axis": {"orient": "bottom", "offset": -640, "values": [0,20,40,60,80,100], "labelExpr": "datum.value + '%'", "grid": false, "domainColor": "#808080", "tickColor": "#808080", "tickSize": 3, "labelFontSize": 11, "labelPadding": 8, "labelFlush": false, "labelOverlap": false, "title": null, "zindex": 1}},
    "x2": {"field": "x2"},
    "y": {"field": "y1", "type": "quantitative", "scale": {"domain": [0, 90000], "range": [219, 39], "nice": false, "zero": false},
          "axis": {"orient": "left", "offset": -894, "values": [0,10000,20000,30000,40000,50000,60000,70000,80000,90000], "format": ",.0f", "grid": false, "domainColor": "#808080", "tickColor": "#808080", "tickSize": 3, "labelFontSize": 11, "labelPadding": 5, "labelFlush": false, "labelOverlap": false, "title": null, "zindex": 1}},
    "y2": {"field": "y2"}
   }},
  {"data": {"name": "igrid"},
   "mark": {"type": "rule", "color": "#c0c0c0", "strokeWidth": 1},
   "encoding": {
    "x": {"field": "x1", "type": "quantitative"}, "x2": {"field": "x2"},
    "y": {"field": "y1", "type": "quantitative"}, "y2": {"field": "y2"}
   }},
  {"data": {"name": "obs"},
   "mark": {"type": "line", "color": "#ff00ff", "strokeWidth": 2.2},
   "encoding": {"x": {"field": "p", "type": "quantitative"}, "y": {"field": "o", "type": "quantitative"}}},
  {"data": {"name": "obs"},
   "mark": {"type": "line", "color": "#0000ff", "strokeWidth": 1.6},
   "encoding": {"x": {"field": "p", "type": "quantitative"}, "y": {"field": "o", "type": "quantitative"}}}
 ]
}
],
"resolve": {"scale": {"x": "independent", "y": "independent"}, "axis": {"x": "independent", "y": "independent"}}
}
